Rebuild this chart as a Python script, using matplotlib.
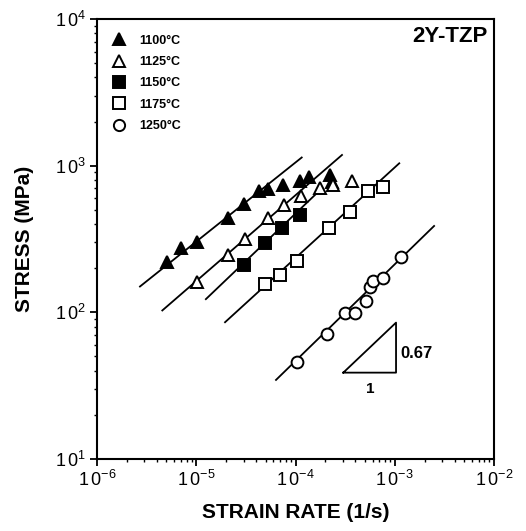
import numpy as np
import matplotlib
matplotlib.use("Agg")
import matplotlib.pyplot as plt
from matplotlib.ticker import LogLocator, FuncFormatter, NullFormatter

plt.rcParams['font.family'] = ['Liberation Sans', 'DejaVu Sans']
plt.rcParams['mathtext.fontset'] = 'custom'
plt.rcParams['mathtext.rm'] = 'Liberation Sans'
plt.rcParams['mathtext.it'] = 'Liberation Sans'

# ---- data (strain rate 1/s, stress MPa) ----
rate_1100 = [5.03e-6, 7.01e-6, 1.01e-5, 2.07e-5, 3.03e-5, 4.28e-5, 5.32e-5,
             7.40e-5, 1.12e-4, 1.38e-4, 2.23e-4, 2.33e-4]
stress_1100 = [222, 274, 302, 442, 544, 667, 696, 739, 787, 838, 865, 768]

rate_1125 = [1.02e-5, 2.09e-5, 3.10e-5, 5.32e-5, 7.60e-5, 1.135e-4, 1.77e-4,
             2.39e-4, 3.68e-4]
stress_1125 = [160, 246, 318, 438, 540, 622, 701, 739, 790]

rate_1150 = [3.01e-5, 4.97e-5, 7.31e-5, 1.10e-4]
stress_1150 = [211, 297, 377, 463]

rate_1175 = [4.97e-5, 6.93e-5, 1.035e-4, 2.15e-4, 3.54e-4, 5.41e-4, 7.62e-4]
stress_1175 = [156, 180, 225, 373, 486, 677, 719]

rate_1250 = [1.03e-4, 2.06e-4, 3.15e-4, 3.98e-4, 5.13e-4, 5.68e-4, 6.04e-4,
             7.67e-4, 1.16e-3]
stress_1250 = [45.7, 70.7, 98.6, 98.6, 119, 148, 164, 171, 240]

# fitted lines: (rate_start, rate_end), (stress_start, stress_end)
fit_rate = {"1100": (2.71e-6, 1.155e-4), "1125": (4.55e-6, 2.94e-4),
            "1150": (1.25e-5, 1.69e-4), "1175": (1.95e-5, 1.11e-3),
            "1250": (6.36e-5, 2.49e-3)}
fit_stress = {"1100": (150, 1137), "1125": (103, 1183),
              "1150": (123, 662), "1175": (85.6, 1038),
              "1250": (34.6, 388)}

# slope triangle (0.67)
tri_rate = [3.03e-4, 1.03e-3, 1.03e-3, 3.03e-4]
tri_stress = [38.8, 38.8, 85.1, 38.8]

series = [
    ("1100°C", rate_1100, stress_1100, "^", "black"),
    ("1125°C", rate_1125, stress_1125, "^", "white"),
    ("1150°C", rate_1150, stress_1150, "s", "black"),
    ("1175°C", rate_1175, stress_1175, "s", "white"),
    ("1250°C", rate_1250, stress_1250, "o", "white"),
]

fig = plt.figure(figsize=(5.26, 5.31), dpi=100)
ax = fig.add_axes([0.1844, 0.1356, 0.7548, 0.8286])

for key in fit_rate:
    ax.plot(fit_rate[key], fit_stress[key], color="black", lw=1.3, zorder=2)

for label, x, y, m, fc in series:
    ax.plot(x, y, linestyle="none", marker=m, ms=8.5, mfc=fc, mec="black",
            mew=1.4, label=label, zorder=3)

ax.plot(tri_rate, tri_stress, color="black", lw=1.3)
ax.text(1.14e-3, 52, "0.67", fontsize=12, fontweight="bold", va="center", ha="left")
ax.text(5.6e-4, 33.5, "1", fontsize=11, fontweight="bold", va="top", ha="center")

ax.set_xscale("log")
ax.set_yscale("log")
ax.set_xlim(1e-6, 1e-2)
ax.set_ylim(10, 1e4)

fmt = FuncFormatter(lambda v, p: r"$\mathregular{1\,0^{%d}}$" % round(np.log10(v)))
ax.xaxis.set_major_formatter(fmt)
ax.yaxis.set_major_formatter(fmt)
ax.xaxis.set_minor_formatter(NullFormatter())
ax.yaxis.set_minor_formatter(NullFormatter())
ax.xaxis.set_major_locator(LogLocator(base=10, numticks=10))
ax.yaxis.set_major_locator(LogLocator(base=10, numticks=10))
ax.tick_params(which="major", direction="out", length=5, width=1.3, labelsize=13, pad=3)
ax.tick_params(which="minor", direction="out", length=2.5, width=1.0)
for s in ax.spines.values():
    s.set_linewidth(1.5)

ax.set_xlabel("STRAIN RATE (1/s)", fontsize=15, fontweight="bold", labelpad=9)
ax.set_ylabel("STRESS (MPa)", fontsize=15, fontweight="bold", labelpad=15)

ax.text(0.985, 0.96, "2Y-TZP", transform=ax.transAxes, fontsize=16,
        fontweight="bold", ha="right", va="center")

leg = ax.legend(loc="upper left", frameon=False, numpoints=1, handlelength=1.0,
                handletextpad=1.15, labelspacing=0.75, borderaxespad=0.85,
                prop={"weight": "bold", "size": 9}, markerscale=0.95)

fig.savefig("out.png", dpi=100)
